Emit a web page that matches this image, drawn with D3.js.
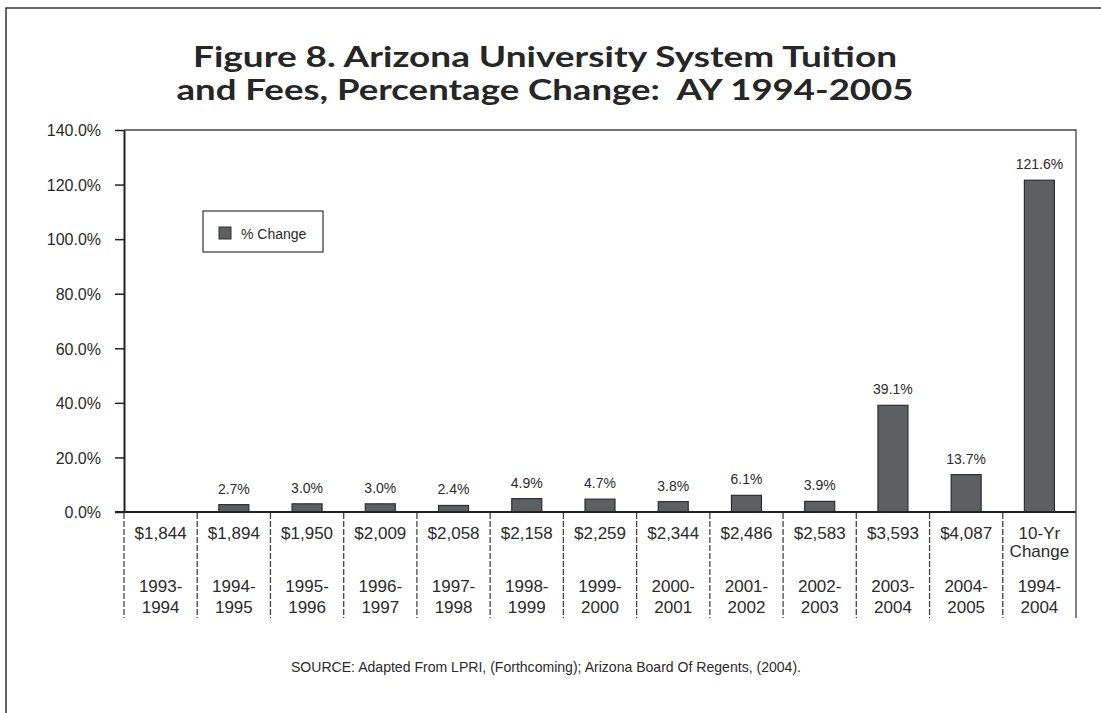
<!DOCTYPE html>
<meta charset="utf-8">
<head>
    <style>
        body { margin: 0; background: #fff; }
        .tick text { font-family: "Liberation Sans", Arial, sans-serif; font-size: 16px; fill: #2b2b2b; }
        .title { font-family: Lato, "Open Sans", sans-serif; font-weight: 700; font-size: 28px; fill: #262626; white-space: pre; }
        .cat { font-family: "Liberation Sans", Arial, sans-serif; font-size: 17px; fill: #2b2b2b; }
        .val { font-family: "Liberation Sans", Arial, sans-serif; font-size: 14px; fill: #2b2b2b; }
    </style>
    <script src="https://d3js.org/d3.v7.min.js"></script>
</head>
<body>
<svg id="chart"></svg>
<script>

    // data
    var years = ["1993-1994", "1994-1995", "1995-1996", "1996-1997", "1997-1998", "1998-1999",
        "1999-2000", "2000-2001", "2001-2002", "2002-2003", "2003-2004", "2004-2005", "1994-2004"];
    var tuition = ["$1,844", "$1,894", "$1,950", "$2,009", "$2,058", "$2,158", "$2,259",
        "$2,344", "$2,486", "$2,583", "$3,593", "$4,087", "10-Yr Change"];
    var pctChange = [null, 2.7, 3.0, 3.0, 2.4, 4.9, 4.7, 3.8, 6.1, 3.9, 39.1, 13.7, 121.6];
    var yTicks = [0, 20, 40, 60, 80, 100, 120, 140];

    var width = 1101, height = 713;
    var plot = {left: 124, right: 1076, top: 130, bottom: 512};
    var catBottom = 618;

    var svg = d3.select("#chart")
        .attr("width", width)
        .attr("height", height);

    // outer frame (left + top only visible)
    svg.append("path")
        .attr("d", "M6," + height + "V8H" + width)
        .attr("fill", "none")
        .attr("stroke", "#333")
        .attr("stroke-width", 1.5);

    // title, two lines
    svg.append("text")
        .attr("class", "title")
        .attr("text-anchor", "middle")
        .attr("x", 545).attr("y", 67)
        .attr("textLength", 704).attr("lengthAdjust", "spacingAndGlyphs")
        .text("Figure 8. Arizona University System Tuition");
    svg.append("text")
        .attr("class", "title")
        .attr("text-anchor", "middle")
        .attr("x", 545).attr("y", 100)
        .attr("textLength", 737).attr("lengthAdjust", "spacingAndGlyphs")
        .text("and Fees, Percentage Change:  AY 1994-2005");

    var x = d3.scaleBand()
        .domain(years)
        .range([plot.left, plot.right])
        .paddingInner(0)
        .paddingOuter(0);

    var y = d3.scaleLinear()
        .domain([0, 140])
        .range([plot.bottom, plot.top]);

    // plot box top and right
    svg.append("path")
        .attr("d", "M" + plot.left + "," + plot.top + "H" + plot.right + "V" + catBottom)
        .attr("fill", "none")
        .attr("stroke", "#444")
        .attr("stroke-width", 1.3);

    // y axis
    var yAxis = svg.append("g")
        .attr("transform", "translate(" + plot.left + ",0)")
        .call(d3.axisLeft(y)
            .tickValues(yTicks)
            .tickSize(9)
            .tickSizeOuter(0)
            .tickPadding(14)
            .tickFormat(function(d){ return d3.format(".1f")(d) + "%"; }));
    yAxis.select(".domain").attr("stroke", "#222").attr("stroke-width", 2);
    yAxis.selectAll(".tick line").attr("stroke", "#222").attr("stroke-width", 1.5);
    yAxis.selectAll(".tick text").attr("dy", "0.36em");

    // bars
    var barW = 30;
    var barData = years.map(function(d, i){ return {year: d, v: pctChange[i]}; })
        .filter(function(d){ return d.v != null; });

    svg.append("g")
        .selectAll("rect")
        .data(barData)
        .enter()
        .append("rect")
        .attr("x", function(d){ return x(d.year) + x.bandwidth() / 2 - barW / 2; })
        .attr("y", function(d){ return y(d.v); })
        .attr("width", barW)
        .attr("height", function(d){ return y(0) - y(d.v); })
        .style("fill", "#5c6063")
        .style("stroke", "#2e2e2e")
        .style("stroke-width", 1.2);

    svg.append("g")
        .selectAll("text")
        .data(barData)
        .enter()
        .append("text")
        .attr("class", "val")
        .attr("text-anchor", "middle")
        .attr("x", function(d){ return x(d.year) + x.bandwidth() / 2; })
        .attr("y", function(d){ return y(d.v) - 11; })
        .text(function(d){ return d3.format(".1f")(d.v) + "%"; });

    // baseline
    svg.append("line")
        .attr("x1", plot.left - 9).attr("x2", plot.right)
        .attr("y1", y(0)).attr("y2", y(0))
        .attr("stroke", "#222")
        .attr("stroke-width", 2);

    // dashed category dividers
    svg.append("g")
        .selectAll("line")
        .data(years)
        .enter()
        .append("line")
        .attr("x1", function(d){ return x(d); })
        .attr("x2", function(d){ return x(d); })
        .attr("y1", plot.bottom + 1)
        .attr("y2", catBottom)
        .attr("stroke", "#444")
        .attr("stroke-width", 1.3)
        .attr("stroke-dasharray", "6,2");

    // category labels: tuition row and year row
    var cats = svg.append("g")
        .selectAll("g")
        .data(years)
        .enter()
        .append("g")
        .attr("transform", function(d){ return "translate(" + (x(d) + x.bandwidth() / 2) + ",0)"; });

    cats.each(function(d, i){
        var g = d3.select(this);
        var t = tuition[i];
        if (t.indexOf("$") === 0) {
            g.append("text").attr("class", "cat").attr("text-anchor", "middle")
                .attr("y", 539).text(t);
        } else {
            var words = t.split(" ");
            g.append("text").attr("class", "cat").attr("text-anchor", "middle")
                .attr("y", 539).text(words[0]);
            g.append("text").attr("class", "cat").attr("text-anchor", "middle")
                .attr("y", 557).text(words[1]);
        }
        var parts = d.split("-");
        g.append("text").attr("class", "cat").attr("text-anchor", "middle")
            .attr("y", 592).text(parts[0] + "-");
        g.append("text").attr("class", "cat").attr("text-anchor", "middle")
            .attr("y", 613).text(parts[1]);
    });

    // legend
    var legend = svg.append("g").attr("transform", "translate(203,211)");
    legend.append("rect")
        .attr("width", 120).attr("height", 41)
        .attr("fill", "#fff")
        .attr("stroke", "#333")
        .attr("stroke-width", 1.2);
    legend.append("rect")
        .attr("x", 16).attr("y", 16)
        .attr("width", 12).attr("height", 12)
        .style("fill", "#5c6063")
        .style("stroke", "#2e2e2e");
    legend.append("text")
        .attr("class", "val")
        .attr("x", 38).attr("y", 28)
        .text("% Change");

    // source note
    svg.append("text")
        .attr("class", "val")
        .attr("x", 291).attr("y", 672)
        .attr("textLength", 510)
        .attr("lengthAdjust", "spacingAndGlyphs")
        .style("font-size", "15px")
        .text("SOURCE: Adapted From LPRI, (Forthcoming); Arizona Board Of Regents, (2004).");

</script>
</body>
